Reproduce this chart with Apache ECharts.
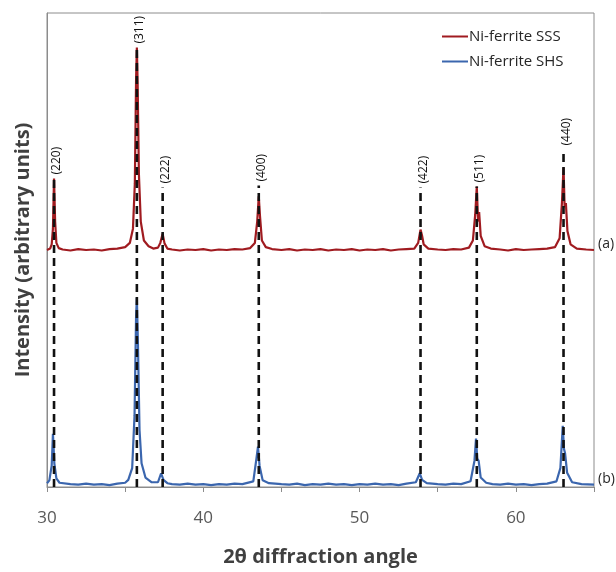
<!DOCTYPE html>
<html>
<head>
<meta charset="utf-8">
<script src="https://cdn.jsdelivr.net/npm/echarts@6/dist/echarts.min.js"></script>
<style>html,body{margin:0;padding:0;background:#fff}#c{width:616px;height:572px}</style>
</head>
<body>
<div id="c"></div>
<script>
// Ni-ferrite SSS (curve a, offset upward)
const sssX = [30.0,30.2,30.3,30.38,30.45,30.52,30.6,30.75,31.0,31.5,32.0,32.5,33.0,33.5,34.0,34.5,35.0,35.3,35.5,35.62,35.7,35.75,35.8,35.88,36.0,36.2,36.5,36.8,37.1,37.25,37.4,37.52,37.7,38.0,38.5,39.0,39.5,40.0,40.5,41.0,41.5,42.0,42.5,43.0,43.3,43.45,43.55,43.62,43.75,44.0,44.4,45.0,45.5,46.0,46.5,47.0,47.5,48.0,48.5,49.0,49.5,50.0,50.5,51.0,51.5,52.0,52.5,53.0,53.5,53.75,53.9,54.0,54.1,54.4,55.0,55.5,56.0,56.5,57.0,57.25,57.4,57.5,57.58,57.65,57.75,58.0,58.4,59.0,59.5,60.0,60.5,61.0,61.5,62.0,62.5,62.8,62.95,63.05,63.12,63.2,63.3,63.5,63.9,64.5,65.0];
const sssY = [500,503,512,545,651,560,515,504,501,499,502,500,501,499,502,503,506,515,545,640,860,927,850,660,560,520,508,503,505,515,534,514,503,501,499,501,500,502,499,501,500,502,501,504,515,560,613,575,520,506,502,500,502,499,501,500,502,499,501,500,502,499,501,500,502,499,501,502,503,515,543,530,512,503,501,500,502,501,505,520,575,634,560,580,530,508,503,501,499,502,500,501,502,503,506,525,600,674,590,599,540,512,503,501,500];
// Ni-ferrite SHS (curve b)
const shsX = [30.0,30.15,30.3,30.38,30.47,30.6,30.8,31.5,32.0,32.5,33.0,33.5,34.0,34.5,35.0,35.2,35.45,35.6,35.7,35.75,35.82,35.92,36.05,36.3,36.7,37.1,37.3,37.45,37.7,38.0,38.5,39.0,39.5,40.0,40.5,41.0,41.5,42.0,42.5,43.2,43.4,43.5,43.6,43.8,44.2,45.0,45.5,46.0,46.5,47.0,47.5,48.0,48.5,49.0,49.5,50.0,50.5,51.0,51.5,52.0,52.5,53.0,53.6,53.85,54.0,54.3,55.0,55.5,56.0,56.5,57.1,57.35,57.45,57.53,57.62,57.75,58.1,58.5,59.0,59.5,60.0,60.5,61.0,61.5,62.0,62.6,62.85,63.0,63.08,63.15,63.28,63.6,64.2,65.0];
const shsY = [8,14,45,112,50,18,9,6,5,7,5,6,4,7,9,15,40,150,360,399,300,120,50,20,10,10,29,15,8,6,5,7,5,6,4,6,5,7,6,12,60,85,45,14,8,6,5,7,4,6,5,7,5,6,4,6,5,7,5,6,4,7,10,29,15,8,6,5,7,6,12,55,102,60,55,20,9,6,5,7,5,6,4,6,7,12,40,129,80,71,30,10,6,5];
// reflection markers
const peakPos = [30.45,35.75,37.4,43.55,53.9,57.5,63.05];
const peakTop = [651,927,632,636,632,634,712];
const peakLabels = ['(220)','(311)','(222)','(400)','(422)','(511)','(440)'];

const zip = (a,b) => a.map((v,i)=>[v,b[i]]);
const peakData = peakPos.map((p,i)=>[p, peakTop[i], peakLabels[i]]);

const FONT = 'Open Sans';
const chart = echarts.init(document.getElementById('c'));
chart.setOption({
  animation:false,
  backgroundColor:'#fff',
  grid:{left:47,right:22,top:13,bottom:75,show:true,borderColor:'#8c8c8c',borderWidth:1},
  legend:{
    orient:'vertical', left:437, top:22, icon:'rect', itemWidth:26, itemHeight:2, itemGap:6,
    textStyle:{fontFamily:FONT,fontSize:15,color:'#262626',padding:[0,0,0,-4],lineHeight:19},
    data:['Ni-ferrite SSS','Ni-ferrite SHS']
  },
  xAxis:{
    type:'value', min:30, max:65, interval:5,
    name:'2θ diffraction angle', nameLocation:'middle', nameGap:60,
    nameTextStyle:{fontFamily:FONT,fontSize:20,fontWeight:'bold',color:'#404040'},
    axisLine:{lineStyle:{color:'#8c8c8c',width:1}},
    axisTick:{show:true,length:5,lineStyle:{color:'#8c8c8c'}},
    axisLabel:{fontFamily:FONT,fontSize:17,color:'#595959',margin:23,
      formatter:v=> (v%10===0 && v<65) ? String(v) : ''},
    splitLine:{show:false}
  },
  yAxis:{
    type:'value', min:0, max:1000,
    name:'Intensity (arbitrary units)', nameLocation:'middle', nameGap:14,
    nameTextStyle:{fontFamily:FONT,fontSize:20,fontWeight:'bold',color:'#404040'},
    axisLine:{show:true,lineStyle:{color:'#8c8c8c'}},
    axisTick:{show:false}, axisLabel:{show:false}, splitLine:{show:false}
  },
  series:[
    {name:'Ni-ferrite SSS', type:'line', data:zip(sssX,sssY), showSymbol:false, symbol:'none',
     lineStyle:{color:'#a01b20',width:2.2}, itemStyle:{color:'#a01b20'},
     endLabel:{show:true,formatter:'(a)',fontFamily:FONT,fontSize:14,color:'#262626',distance:4,offset:[0,-6]}},
    {name:'Ni-ferrite SHS', type:'line', data:zip(shsX,shsY), showSymbol:false, symbol:'none',
     lineStyle:{color:'#3b66ae',width:2.2}, itemStyle:{color:'#3b66ae'},
     endLabel:{show:true,formatter:'(b)',fontFamily:FONT,fontSize:14,color:'#262626',distance:4,offset:[0,-6]}},
    {type:'custom', data:peakData, z:10, silent:true,
     renderItem:(params,api)=>{
       const x = api.value(0), top = api.value(1);
       const p0 = api.coord([x,0]), p1 = api.coord([x,top]);
       return {type:'group', children:[
         {type:'line', shape:{x1:p0[0],y1:p0[1],x2:p1[0],y2:p1[1]},
          style:{stroke:'#111',lineWidth:2.6,lineDash:[8,5]}},
         {type:'text', x:p1[0]+3, y:p1[1]-4, rotation:Math.PI/2,
          style:{text:peakLabels[params.dataIndex],fontFamily:FONT,fontSize:12,fill:'#111',align:'left',verticalAlign:'middle'}}
       ]};
     }}
  ]
});
</script>
</body>
</html>
